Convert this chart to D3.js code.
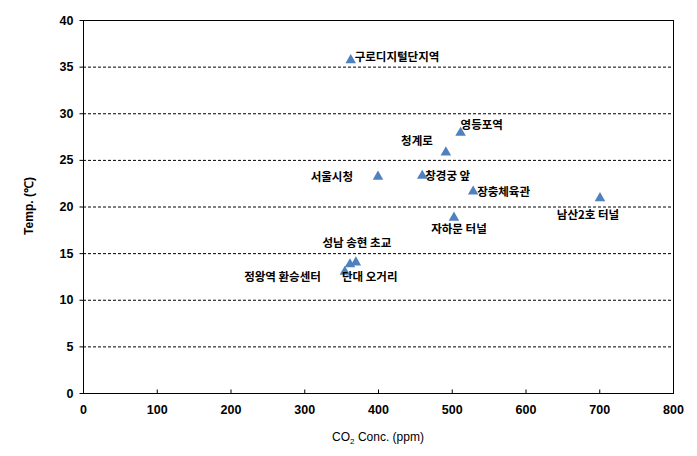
<!DOCTYPE html>
<html><head><meta charset="utf-8">
<script src="https://cdn.jsdelivr.net/npm/d3@7"></script>
<style>body{margin:0;background:#fff}</style>
</head><body>
<svg id="c" width="697" height="456"></svg>
<script>
const sites = ["구로디지털단지역","영등포역","청계로","서울시청","창경궁 앞","장충체육관","남산2호 터널","자하문 터널","성남 송현 초교","정왕역 환승센터","단대 오거리"];
const co2 =   [363, 512, 492, 400, 460, 529, 701, 503, 370, 355, 362];
const temp =  [35.7, 27.9, 25.8, 23.2, 23.3, 21.6, 20.9, 18.8, 14.0, 13.0, 13.8];
const xTicks = [0,100,200,300,400,500,600,700,800];
const yTicks = [0,5,10,15,20,25,30,35,40];
// label layout: [dx, dy, anchor]
const labelLayout = [[4,-3,"start"],[0,-8,"start"],[-13,-11,"end"],[-25,0,"end"],[3,0,"start"],[4,0,"start"],[-12,17,"middle"],[5,11,"middle"],[1,-19,"middle"],[-24,5,"end"],[-8,13,"start"]];

const svg = d3.select("#c");
const L=83, R=673, T=20, B=393;
const x = d3.scaleLinear().domain([0,800]).range([L,R]);
const y = d3.scaleLinear().domain([0,40]).range([B,T]);

// gridlines
svg.append("g").selectAll("line").data(yTicks.filter(d=>d>0&&d<40)).join("line")
  .attr("x1",L).attr("x2",R).attr("y1",d=>y(d)+0.5).attr("y2",d=>y(d)+0.5)
  .attr("stroke","#000").attr("stroke-width",1).attr("stroke-dasharray","3,2");

// frame
svg.append("rect").attr("x",L+0.5).attr("y",T+0.5).attr("width",R-L).attr("height",B-T)
  .attr("fill","none").attr("stroke","#000").attr("stroke-width",1);

const xa = svg.append("g").attr("transform",`translate(0,${B+0.5})`)
  .call(d3.axisBottom(x).tickValues(xTicks).tickSize(-4).tickPadding(12));
const ya = svg.append("g").attr("transform",`translate(${L+0.5},0)`)
  .call(d3.axisLeft(y).tickValues(yTicks).tickSize(4).tickPadding(6));
[xa,ya].forEach(a=>{
  a.select(".domain").remove();
  a.selectAll("text").attr("font-family","Liberation Sans, Arial, sans-serif").attr("font-size",12.5).attr("font-weight","bold").attr("fill","#000");
  a.selectAll("line").attr("stroke","#000");
});

// titles
svg.append("text").attr("transform","translate(33,206) rotate(-90)").attr("text-anchor","middle")
  .attr("font-family","Liberation Sans, Arial, sans-serif").attr("font-size",12).attr("font-weight","bold").text("Temp. (℃)");
const xt = svg.append("text").attr("x",378).attr("y",441).attr("text-anchor","middle")
  .attr("font-family","Liberation Sans, Arial, sans-serif").attr("font-size",12);
xt.append("tspan").text("CO");
xt.append("tspan").attr("font-size",8).attr("dy",3).text("2");
xt.append("tspan").attr("dy",-3).text(" Conc. (ppm)");

// points
const idx = d3.range(sites.length);
const tri = d3.symbol().type(d3.symbolTriangle).size(48);
svg.append("g").selectAll("path").data(idx).join("path")
  .attr("d",tri).attr("transform",i=>`translate(${x(co2[i])},${y(temp[i])})`)
  .attr("fill","#4F81BD");

svg.append("g").selectAll("text").data(idx).join("text")
  .attr("x",i=>x(co2[i])+labelLayout[i][0]).attr("y",i=>y(temp[i])+labelLayout[i][1])
  .attr("dy","0.35em").attr("text-anchor",i=>labelLayout[i][2])
  .attr("font-family","Noto Sans CJK KR, sans-serif").attr("font-size",11.5).attr("font-weight","bold")
  .attr("fill","#000").text(i=>sites[i]);
</script>
</body></html>
